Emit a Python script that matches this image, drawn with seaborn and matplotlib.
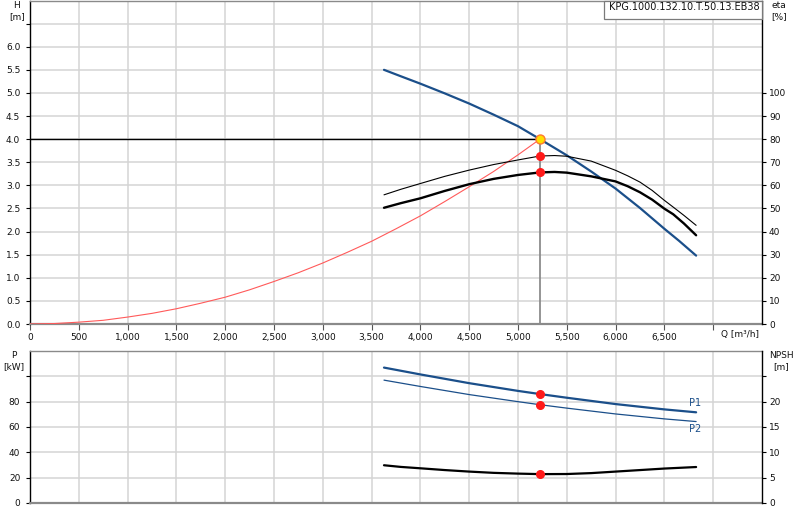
import numpy as np
import matplotlib
matplotlib.use("Agg")
import matplotlib.pyplot as plt
from matplotlib.patches import Rectangle
import seaborn as sns

# --- data ---
q_head = [3627, 3800, 4000, 4250, 4500, 4750, 5000, 5225, 5500, 5750, 6000, 6250, 6500, 6650, 6825]
head = [5.50, 5.36, 5.20, 4.99, 4.77, 4.53, 4.28, 4.00, 3.65, 3.30, 2.93, 2.51, 2.06, 1.80, 1.48]

q_eta = [3627, 3800, 4000, 4250, 4500, 4750, 5000, 5225, 5375, 5500, 5750, 6000,
         6125, 6250, 6375, 6500, 6590, 6700, 6825]
eta_thin = [55.9, 58.3, 60.8, 63.9, 66.6, 69.0, 71.0, 72.7, 72.9, 72.6, 70.5, 66.5,
            64.1, 61.4, 57.8, 53.5, 50.6, 47.0, 42.7]
eta_thick = [50.3, 52.3, 54.4, 57.6, 60.5, 62.8, 64.5, 65.6, 65.8, 65.5, 63.9, 61.7,
             59.6, 57.0, 53.8, 49.9, 47.5, 43.5, 38.4]

q_sys = [0, 250, 500, 750, 1000, 1250, 1500, 1750, 2000, 2250, 2500, 2750, 3000,
         3250, 3500, 3750, 4000, 4250, 4500, 4750, 5000, 5225]
h_sys = [0, 0.01, 0.04, 0.08, 0.15, 0.23, 0.33, 0.45, 0.58, 0.74, 0.92, 1.11, 1.32,
         1.55, 1.79, 2.06, 2.34, 2.65, 2.97, 3.30, 3.66, 4.00]

q_pow = [3627, 4000, 4500, 5000, 5225, 5500, 6000, 6500, 6825]
p1 = [106.9, 101.5, 94.6, 88.5, 86.0, 83.1, 78.1, 73.9, 71.6]
p2 = [97.0, 92.0, 85.6, 80.0, 77.6, 74.9, 70.3, 66.4, 64.3]

q_npsh = [3627, 3800, 4000, 4250, 4500, 4750, 5000, 5225, 5500, 5750, 6000, 6250, 6500, 6825]
npsh = [7.45, 7.12, 6.85, 6.5, 6.2, 5.95, 5.8, 5.7, 5.72, 5.9, 6.2, 6.5, 6.8, 7.1]

q_op = 5225
h_op = 4.0
eta_op = [72.7, 65.6]
p_op = [86.0, 77.6]
npsh_op = 5.7

x_ticks = list(range(0, 7001, 500))
h_ticks = [i * 0.5 for i in range(14)]
eta_ticks = list(range(0, 101, 10))
p_ticks = list(range(0, 101, 20))
npsh_ticks = list(range(0, 26, 5))
model = "KPG.1000.132.10.T.50.13.EB38"

sns.set_theme(style="white")
plt.rcParams["font.family"] = ["DejaVu Sans"]

BLUE = "#1b4f8a"
GRID = "#d4d4d4"
TXT = "#111111"
FS = 6.5

fig = plt.figure(figsize=(8, 5.2), dpi=100)
ax_h = fig.add_axes([30 / 800, 1 - 324 / 520, 732 / 800, 323.5 / 520])
ax_e = ax_h.twinx()
ax_p = fig.add_axes([30 / 800, 17 / 520, 732 / 800, 152 / 520])
ax_n = ax_p.twinx()


def style_main(ax, xt, xl):
    ax.set_xlim(0, 7500)
    ax.set_xticks(xt)
    ax.set_xticklabels(xl)
    ax.grid(True, color=GRID, lw=1.1)
    ax.set_axisbelow(True)
    for s in ["top", "bottom"]:
        ax.spines[s].set_color("#8a8a8a")
    ax.spines["bottom"].set_linewidth(1.6)
    ax.spines["top"].set_linewidth(1.0)
    ax.spines["left"].set_color("black")
    ax.spines["left"].set_linewidth(1.0)
    ax.spines["right"].set_visible(False)
    ax.tick_params(axis="y", left=True, direction="out", length=3, width=0.8,
                   color="black", pad=4, labelsize=FS, labelcolor=TXT)


def style_twin(ax):
    for s in ["top", "bottom", "left"]:
        ax.spines[s].set_visible(False)
    ax.spines["right"].set_color("black")
    ax.spines["right"].set_linewidth(1.0)
    ax.grid(False)
    ax.tick_params(axis="y", right=True, direction="out", length=3, width=0.8,
                   color="black", pad=2, labelsize=FS, labelcolor=TXT)


# ---- top panel: head / efficiency ----
style_main(ax_h, x_ticks, [f"{v:,}" if v < 7000 else "" for v in x_ticks])
ax_h.tick_params(axis="x", bottom=True, direction="out", length=4, width=0.8,
                 color="#555555", pad=2.5, labelsize=FS, labelcolor=TXT)
ax_h.set_ylim(0, 7.0)
ax_h.set_yticks(h_ticks)
ax_h.set_yticklabels([f"{v:.1f}" if v <= 6.0 else "" for v in h_ticks])

ax_h.plot([0, q_op], [h_op, h_op], color="black", lw=1.0, zorder=3)
ax_h.plot([q_op, q_op], [0, h_op], color="#8c8c8c", lw=1.3, zorder=3)
sns.lineplot(x=q_sys, y=h_sys, ax=ax_h, color="#ff5a5a", lw=0.8, sort=False, zorder=4)
sns.lineplot(x=q_head, y=head, ax=ax_h, color=BLUE, lw=1.6, sort=False, zorder=5)
ax_h.plot([q_op], [h_op], "o", ms=6.5, mfc="#ffdf00", mec="#ff7a30", mew=1.0, zorder=8)

style_twin(ax_e)
ax_e.set_ylim(0, 140)
ax_e.set_yticks(eta_ticks)
ax_e.set_yticklabels([str(v) for v in eta_ticks])
sns.lineplot(x=q_eta, y=eta_thin, ax=ax_e, color="black", lw=0.8, sort=False)
sns.lineplot(x=q_eta, y=eta_thick, ax=ax_e, color="black", lw=1.7, sort=False)
ax_e.plot([q_op, q_op], eta_op, "o", ls="none", ms=5.5, color="#ff1a1a", zorder=8)
ax_e.set_xlim(0, 7500)

# ---- bottom panel: power / NPSH ----
style_main(ax_p, x_ticks, [])
ax_p.tick_params(axis="x", bottom=False, labelbottom=False)
ax_p.set_ylim(0, 120)
ax_p.set_yticks(p_ticks)
ax_p.set_yticklabels([str(v) if v <= 80 else "" for v in p_ticks])
sns.lineplot(x=q_pow, y=p1, ax=ax_p, color=BLUE, lw=1.6, sort=False)
sns.lineplot(x=q_pow, y=p2, ax=ax_p, color=BLUE, lw=0.9, sort=False)
ax_p.plot([q_op, q_op], p_op, "o", ls="none", ms=5.5, color="#ff1a1a", zorder=8)
ax_p.text(6750, 79.2, "P1", color=BLUE, fontsize=7, ha="left", va="center")
ax_p.text(6750, 58.8, "P2", color=BLUE, fontsize=7, ha="left", va="center")

style_twin(ax_n)
ax_n.set_ylim(0, 30)
ax_n.set_yticks(npsh_ticks)
ax_n.set_yticklabels([str(v) if v <= 20 else "" for v in npsh_ticks])
sns.lineplot(x=q_npsh, y=npsh, ax=ax_n, color="black", lw=1.6, sort=False)
ax_n.plot([q_op], [npsh_op], "o", ms=5.5, color="#ff1a1a", zorder=8)
ax_n.set_xlim(0, 7500)


# ---- captions and model box ----
def px_text(x, y, s, ha="center", fs=FS):
    fig.text(x / 800, 1 - y / 520, s, ha=ha, va="center", fontsize=fs, color=TXT)


fig.patches.append(Rectangle((604 / 800, 1 - 19 / 520), 158 / 800, 18.5 / 520,
                             transform=fig.transFigure, fc="white", ec="#7a7a7a",
                             lw=0.9, zorder=10))
fig.text(609 / 800, 1 - 7.5 / 520, model, ha="left", va="center", fontsize=7,
         color=TXT, zorder=11)

px_text(779, 5, "eta")
px_text(779, 17, "[%]")
px_text(17, 5, "H")
px_text(17, 17, "[m]")
px_text(740, 335, "Q [m³/h]")
px_text(14, 355, "P")
px_text(14, 367, "[kW]")
px_text(781, 355, "NPSH")
px_text(781, 367, "[m]")

fig.savefig("out.png", dpi=100)
